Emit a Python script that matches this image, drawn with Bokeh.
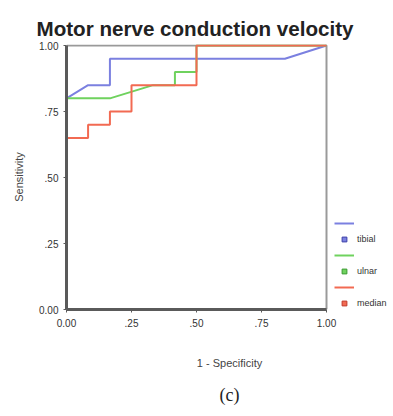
from bokeh.plotting import figure
from bokeh.models import Legend, LegendItem, Title, FixedTicker, Range1d
from bokeh.embed import file_html
from bokeh.resources import INLINE

# ROC curve points (1 - specificity, sensitivity)
tibial_fpr = [0.0, 0.083, 0.167, 0.167, 0.840, 1.0]
tibial_tpr = [0.80, 0.85, 0.85, 0.95, 0.95, 1.0]

ulnar_fpr = [0.0, 0.167, 0.333, 0.417, 0.417, 0.50, 0.50, 1.0]
ulnar_tpr = [0.80, 0.80, 0.85, 0.85, 0.90, 0.90, 1.0, 1.0]

median_fpr = [0.0, 0.083, 0.083, 0.167, 0.167, 0.25, 0.25, 0.50, 0.50, 1.0]
median_tpr = [0.65, 0.65, 0.70, 0.70, 0.75, 0.75, 0.85, 0.85, 1.0, 1.0]

series_names = ["tibial", "ulnar", "median"]
series_colors = ["#7b80e0", "#6fd25e", "#f26a52"]
marker_edges = ["#3b3fa8", "#3a9a30", "#c03a2a"]

tick_values = [0.0, 0.25, 0.5, 0.75, 1.0]
tick_labels = ["0.00", ".25", ".50", ".75", "1.00"]

# plot box (top and right edges of the 0..1 square)
box_x = [0.0, 1.0, 1.0]
box_y = [1.0, 1.0, 0.0]

FRAME_W = 260
W = 392
x_end = (W - 66) / FRAME_W

p = figure(width=W, height=416, x_range=Range1d(0, x_end), y_range=Range1d(0, 1.004),
           output_backend="svg", toolbar_location=None,
           min_border_left=66, min_border_right=0,
           min_border_top=44, min_border_bottom=107)
p.background_fill_color = "white"
p.border_fill_color = "white"
p.outline_line_color = None
p.xgrid.visible = False
p.ygrid.visible = False

overrides = {v: s for v, s in zip(tick_values, tick_labels)}
for ax in (p.xaxis[0], p.yaxis[0]):
    ax.ticker = FixedTicker(ticks=tick_values)
    ax.major_label_overrides = overrides
    ax.bounds = (0, 1)
    ax.minor_tick_line_color = None
    ax.axis_line_color = "#5a5a5a"
    ax.axis_line_width = 3
    ax.major_tick_line_color = "#5a5a5a"
    ax.major_tick_in = 0
    ax.major_tick_out = 3
    ax.major_label_text_font = "Liberation Sans"
    ax.major_label_text_font_size = "10px"
    ax.major_label_text_color = "#333333"
    ax.axis_label_text_font = "Liberation Sans"
    ax.axis_label_text_font_size = "11px"
    ax.axis_label_text_font_style = "normal"
    ax.axis_label_text_color = "#444444"

p.xaxis.axis_label = "1 - Specificity"
p.yaxis.axis_label = "Sensitivity"
p.xaxis.major_label_standoff = 6
p.yaxis.major_label_standoff = 5
p.xaxis.axis_label_standoff = 27
p.yaxis.axis_label_standoff = 11

p.title.text = "Motor nerve conduction velocity"
p.title.text_font = "Liberation Sans"
p.title.text_font_size = "20.6px"
p.title.text_font_style = "bold"
p.title.text_color = "#222222"
p.title.align = "left"
p.title.offset = -30

cap = Title(text="(c)", align="center", text_font="Liberation Serif",
            text_font_size="18px", text_font_style="normal",
            text_color="#222222", standoff=23, offset=-(x_end - 1) * FRAME_W / 2)
p.add_layout(cap, "below")

p.line(box_x, box_y, line_color="#9a9a9a", line_width=2)

nan = float("nan")
data = [(tibial_fpr, tibial_tpr), (ulnar_fpr, ulnar_tpr), (median_fpr, median_tpr)]
items = []
for (fx, ty), name, col, edge in zip(data, series_names, series_colors, marker_edges):
    ln = p.line(fx, ty, line_color=col, line_width=2)
    mk = p.scatter(x=[nan], y=[nan], marker="square", size=5, fill_color=col,
                   line_color=edge, line_width=1)
    items.append(LegendItem(label=" ", renderers=[ln]))
    items.append(LegendItem(label=name, renderers=[mk]))

legend = Legend(items=items, location=(268, 0), padding=0, margin=0,
                border_line_color=None, background_fill_alpha=0,
                glyph_width=20, glyph_height=12, label_height=12,
                spacing=4, label_standoff=3,
                label_text_font="Liberation Sans", label_text_font_size="9px",
                label_text_color="#333333")
p.add_layout(legend, "center")

open("out.html", "w").write(file_html(p, INLINE))
